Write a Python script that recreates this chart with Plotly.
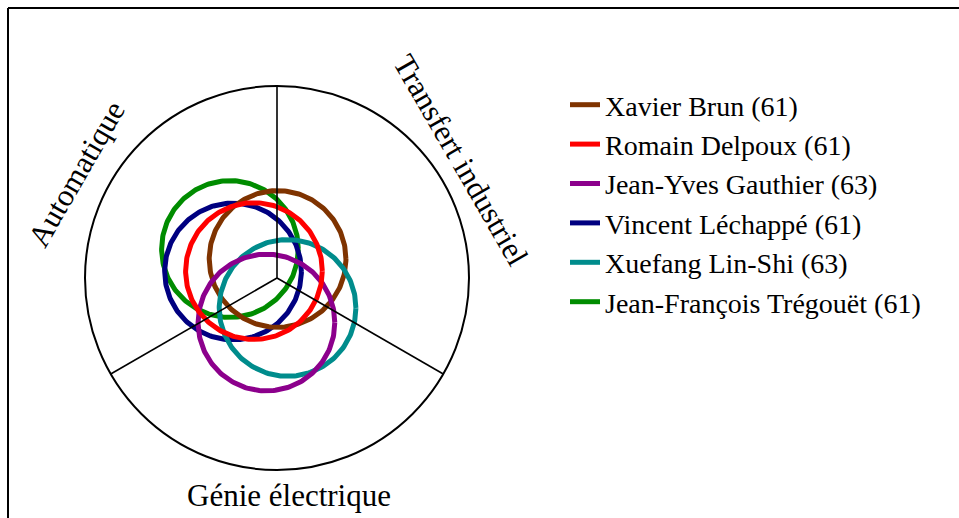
import numpy as np
import plotly.graph_objects as go

# ---- data (positions in units of the outer radius) ----
names = ["Xavier Brun", "Romain Delpoux", "Jean-Yves Gauthier",
         "Vincent Léchappé", "Xuefang Lin-Shi", "Jean-François Trégouët"]
counts = [61, 61, 63, 61, 63, 61]
x_pos = [0.003, -0.120, -0.055, -0.229, 0.055, -0.245]
y_pos = [0.099, 0.036, -0.232, 0.034, -0.156, 0.151]
colors = ["#7f3300", "#ff0000", "#8c008c", "#000080", "#008c8c", "#008c00"]
circle_radius = 0.356

domains = ["Transfert industriel", "Automatique", "Génie électrique"]
spoke_angles = [90, 210, 330]          # degrees, separating the three sectors

# drawing order (red on top), legend keeps the original order
draw_order = [5, 3, 0, 4, 2, 1]

FONT = "Liberation Serif, Times New Roman, serif"
PX = 192.0  # pixels per unit
W, H = 959, 518
CX, CY = 277, 278  # pixel position of the centre

fig = go.Figure()

t = np.linspace(0, 2 * np.pi, 241)
for i in draw_order:
    fig.add_trace(go.Scatter(
        x=x_pos[i] + circle_radius * np.cos(t),
        y=y_pos[i] + circle_radius * np.sin(t),
        mode="lines",
        line=dict(color=colors[i], width=5),
        name=f"{names[i]} ({counts[i]})",
        legendrank=i + 1,
        legendgroup=str(i),
        hoverinfo="skip",
    ))

shapes = []
# outer circle
shapes.append(dict(type="circle", xref="x", yref="y", x0=-1, y0=-1, x1=1, y1=1,
                   line=dict(color="black", width=2), layer="above"))
# spokes
for a in spoke_angles:
    r = np.deg2rad(a)
    shapes.append(dict(type="line", xref="x", yref="y", x0=0, y0=0,
                       x1=float(np.cos(r)), y1=float(np.sin(r)),
                       line=dict(color="black", width=1.6), layer="above"))
# frame (right and bottom edges lie outside the picture)
shapes.append(dict(type="line", xref="paper", yref="paper",
                   x0=8 / W, y0=1 - 8 / H, x1=1.01, y1=1 - 8 / H,
                   line=dict(color="black", width=2)))
shapes.append(dict(type="line", xref="paper", yref="paper",
                   x0=8 / W, y0=1 - 8 / H, x1=8 / W, y1=-0.01,
                   line=dict(color="black", width=2)))

annotations = [
    dict(text=domains[0], x=0.955, y=0.615, textangle=60),
    dict(text=domains[1], x=-1.045, y=0.545, textangle=-60),
    dict(text=domains[2], x=0.060, y=-1.135, textangle=0),
]
for a in annotations:
    a.update(xref="x", yref="y", showarrow=False,
             font=dict(family=FONT, size=31, color="black"),
             xanchor="center", yanchor="middle")

fig.update_layout(
    width=W, height=H, autosize=False,
    margin=dict(l=0, r=0, t=0, b=0),
    font=dict(family=FONT, size=28, color="black"),
    paper_bgcolor="white", plot_bgcolor="white",
    xaxis=dict(range=[-CX / PX, (W - CX) / PX], visible=False, fixedrange=True),
    yaxis=dict(range=[-(H - CY) / PX, CY / PX], visible=False, fixedrange=True),
    shapes=shapes,
    annotations=annotations,
    showlegend=True,
    legend=dict(x=565 / W, y=1 - 80 / H, xanchor="left", yanchor="top",
                font=dict(family=FONT, size=28, color="black"),
                bgcolor="rgba(0,0,0,0)", tracegroupgap=0,
                traceorder="normal", itemwidth=30),
)

fig.write_html("out.html",
               config={"displayModeBar": False},
               post_script="document.body.style.margin='0px';"
                           "document.body.style.overflow='hidden';")
